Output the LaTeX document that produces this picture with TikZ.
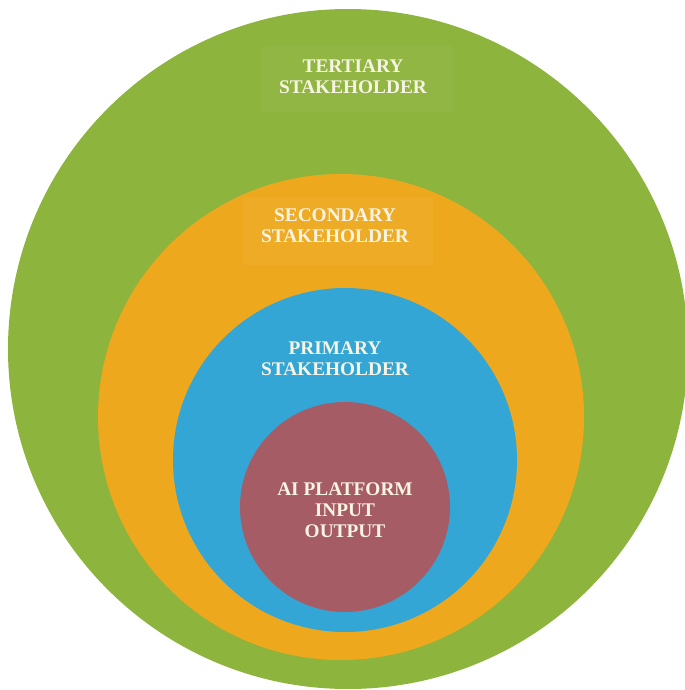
\documentclass[tikz,border=0pt]{standalone}
\usepackage{fontspec}
\setmainfont{Liberation Serif}
\definecolor{tertcol}{RGB}{141,180,60}
\definecolor{seccol}{RGB}{238,168,30}
\definecolor{primcol}{RGB}{52,166,214}
\definecolor{aicol}{RGB}{166,92,100}
\definecolor{textcol}{RGB}{248,244,228}
\tikzset{ringlabel/.style={align=center,text=textcol,inner sep=0pt,
  font=\bfseries\fontsize{11}{11.8}\selectfont}}

\begin{document}
\begin{tikzpicture}[x=0.02cm,y=-0.02cm]
            \useasboundingbox (0,0) rectangle (685,690);
            % rings, outside in
            \foreach \x/\y/\r/\c/\n in {348/349/340/tertcol/tert,341/417/243/seccol/sec,345/460/172/primcol/prim,345/507/105/aicol/ai} {
            \fill[\c] (\x,\y) coordinate (\n) circle (\r);}

            % faint boxes behind the labels
            \fill[white,opacity=.04] (262,46) rectangle (452,112);
            \fill[white,opacity=.04] (243,197) rectangle (433,265);

            \node[ringlabel] (terttext) at (353,77) {TERTIARY\\STAKEHOLDER};
            \node[ringlabel] (sectext) at (335,226) {SECONDARY\\STAKEHOLDER};
            \node[ringlabel] (primtext) at (335,359) {PRIMARY\\STAKEHOLDER};
            \node[ringlabel] (aitext) at (345,510) {AI PLATFORM\\INPUT\\OUTPUT};
        \end{tikzpicture}
\end{document}
